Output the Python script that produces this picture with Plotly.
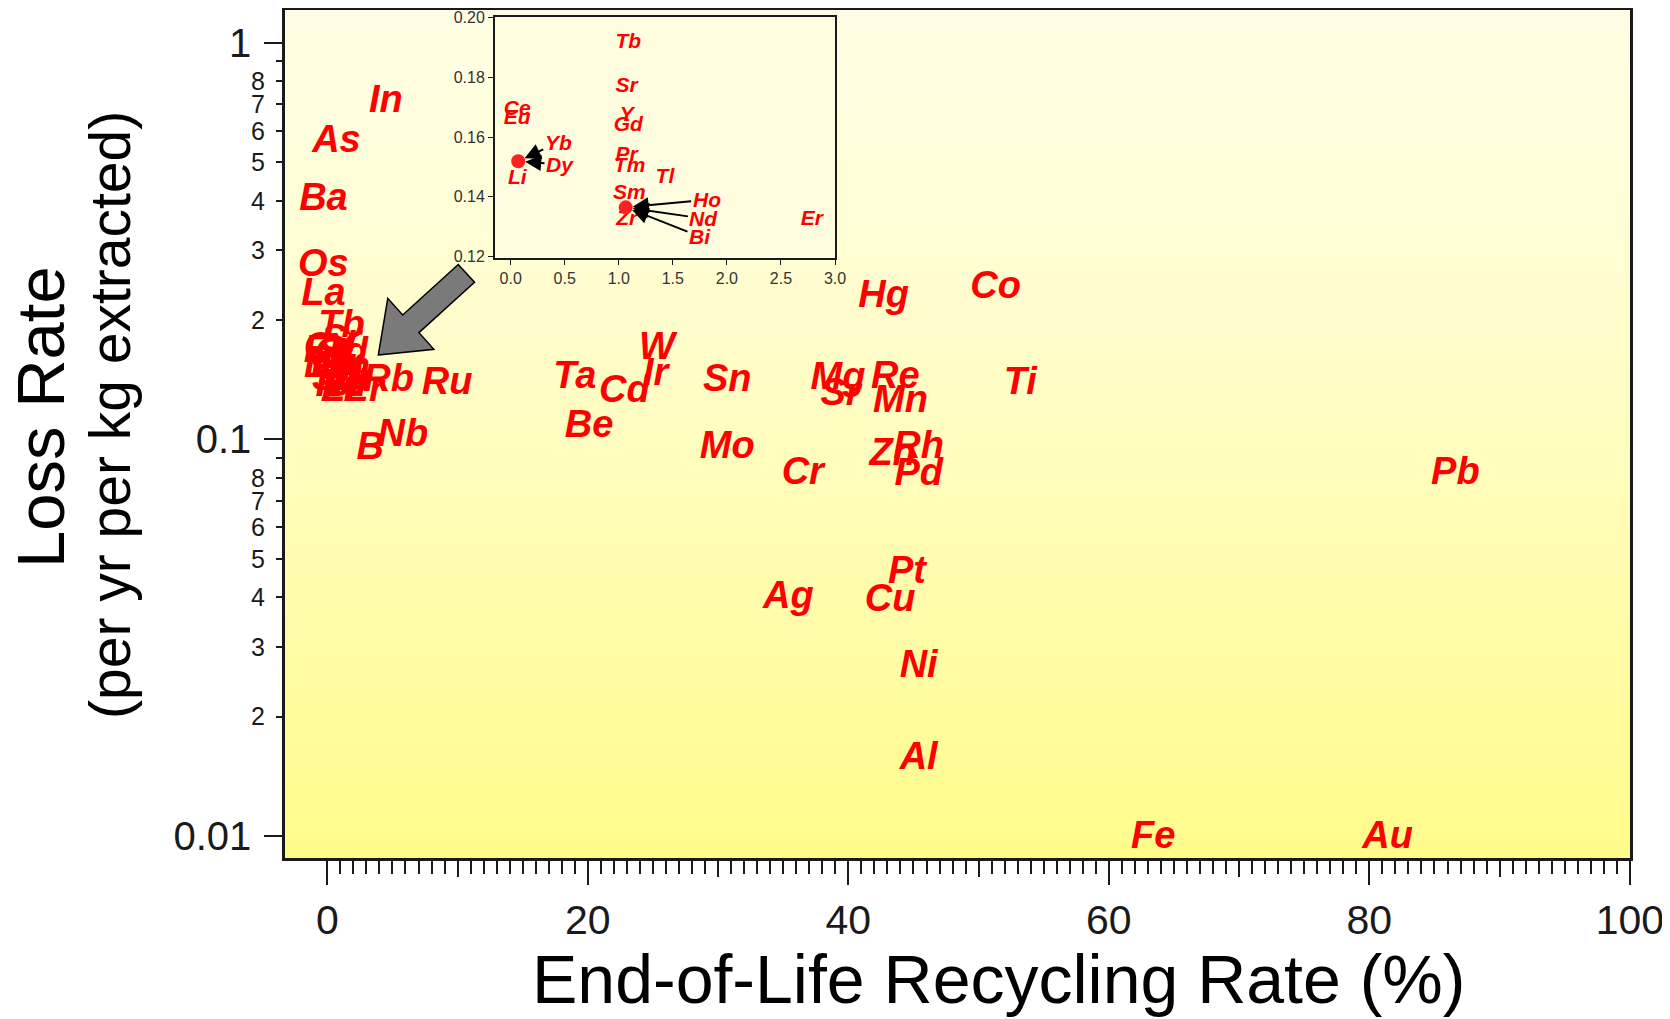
import plotly.graph_objects as go

# Main plot: element labels (recycling rate %, loss rate per yr per kg)
elements = ['In', 'As', 'Ba', 'Os', 'La', 'Rb', 'Ru', 'Nb', 'B', 'Ta', 'Cd', 'W', 'Ir', 'Be',
            'Sn', 'Mo', 'Cr', 'Mg', 'Sr', 'Re', 'Mn', 'Hg', 'Co', 'Ti', 'Zn', 'Rh', 'Pd', 'Pb',
            'Pt', 'Ag', 'Cu', 'Ni', 'Al', 'Fe', 'Au']
recycling = [4.5, 0.7, -0.3, -0.3, -0.3, 4.7, 9.2, 5.8, 3.3, 19.0, 22.8, 25.3, 25.2, 20.1,
             30.7, 30.7, 36.5, 39.2, 39.4, 43.6, 44.0, 42.7, 51.3, 53.2, 43.4, 45.4, 45.4, 86.6,
             44.5, 35.4, 43.2, 45.4, 45.4, 63.4, 81.4]
loss = [0.709, 0.560, 0.401, 0.273, 0.231, 0.140, 0.1376, 0.1016, 0.0944, 0.1429, 0.131, 0.169,
        0.1446, 0.1075, 0.140, 0.0949, 0.0818, 0.1419, 0.1293, 0.1429, 0.124, 0.2285, 0.240,
        0.1376, 0.0909, 0.0949, 0.0809, 0.0818, 0.046, 0.0397, 0.039, 0.0266, 0.0156, 0.00987,
        0.00987]

# Inset: low-recycling cluster
inset_elements = ['Tb', 'Sr', 'Y', 'Gd', 'Pr', 'Tm', 'Tl', 'Sm', 'Zr', 'Ce', 'Eu', 'Er']
inset_x = [1.088, 1.073, 1.073, 1.088, 1.073, 1.10, 1.427, 1.097, 1.073, 0.061, 0.061, 2.785]
inset_y = [0.1915, 0.1769, 0.1672, 0.1638, 0.1538, 0.1501, 0.1465, 0.1411, 0.1322, 0.1691,
           0.1661, 0.1322]

# grouped points drawn as dots, with their labels
dot_x = [0.07, 1.064]
dot_y = [0.1519, 0.1364]
group_elements = [['Li', 'Yb', 'Dy'], ['Ho', 'Nd', 'Bi']]
li_label = (0.061, 0.1460)
arrow_labels = ['Yb', 'Dy', 'Ho', 'Nd', 'Bi']
arrow_label_x = [0.44, 0.456, 1.813, 1.788, 1.751]
arrow_label_y = [0.1582, 0.1508, 0.1389, 0.1326, 0.1266]
arrow_target = [0, 0, 1, 1, 1]

x_ticks = [0, 20, 40, 60, 80, 100]
y_decades = [0.01, 0.1, 1]
y_decade_text = ['0.01', '0.1', '1']
y_minor = [m * d for d in [0.01, 0.1] for m in range(2, 10)]
y_minor_text = [str(m) if m < 9 else '' for d in [0.01, 0.1] for m in range(2, 10)]

FONT = 'Liberation Sans, Arial, sans-serif'
RED = '#ff0000'
INK = '#1a1a1a'

# the page body adds an 8px margin around the figure
OFF = 8
W, H = 1670 - 2 * OFF, 1019 - OFF
L, R, T, B = 285 - OFF, 1630 - OFF, 10 - OFF, 858 - OFF


def pp(sx, sy):
    # screen pixel -> paper coords
    return ((sx - OFF) - L) / (R - L), (B - (sy - OFF)) / (B - T)


all_x = recycling + inset_x + [dot_x[i] for i, g in enumerate(group_elements) for _ in g]
all_y = loss + inset_y + [dot_y[i] for i, g in enumerate(group_elements) for _ in g]
all_text = elements + inset_elements + [e for g in group_elements for e in g]

fig = go.Figure()

fig.add_trace(go.Scatter(x=all_x, y=all_y, text=all_text, mode='text',
                         textfont=dict(family=FONT, size=38, color=RED, weight='bold', style='italic'),
                         cliponaxis=False, hoverinfo='skip', showlegend=False))

# dummy trace for overlay axes
fig.add_trace(go.Scatter(x=[None], y=[None], xaxis='x2', yaxis='y2', showlegend=False))

fig.add_trace(go.Scatter(x=inset_x + [li_label[0]], y=inset_y + [li_label[1]],
                         text=inset_elements + ['Li'], mode='text', xaxis='x3', yaxis='y3',
                         textfont=dict(family=FONT, size=21, color=RED, weight='bold', style='italic'),
                         cliponaxis=False, hoverinfo='skip', showlegend=False))
fig.add_trace(go.Scatter(x=dot_x, y=dot_y, mode='markers', xaxis='x3', yaxis='y3',
                         marker=dict(size=14, color='#ff2020'), hoverinfo='skip', showlegend=False))

for name, lx, ly, k in zip(arrow_labels, arrow_label_x, arrow_label_y, arrow_target):
    fig.add_annotation(x=dot_x[k], y=dot_y[k], ax=lx, ay=ly, xref='x3', yref='y3',
                       axref='x3', ayref='y3', text=name, showarrow=True, arrowhead=2,
                       arrowsize=1.6, arrowwidth=2, arrowcolor='black', standoff=7,
                       font=dict(family=FONT, size=21, color=RED, weight='bold', style='italic'))

# gradient backgrounds
def grad_color(t):
    top = (255, 254, 228)
    bot = (255, 251, 138)
    f = t ** 1.3
    return 'rgb(%d,%d,%d)' % tuple(round(a + (b - a) * f) for a, b in zip(top, bot))

n = 60
shapes = []
for xr, yr in [('x domain', 'y domain'), ('x3 domain', 'y3 domain')]:
    for i in range(n):
        shapes.append(dict(type='rect', xref=xr, yref=yr, x0=0, x1=1,
                           y0=1 - (i + 1) / n, y1=1 - i / n + 0.002, layer='below',
                           line=dict(width=0), fillcolor=grad_color((i + 0.5) / n)))

# big grey arrow pointing to the cluster (screen pixel geometry)
arrow_px = [(378.3, 355), (433.9, 349.3), (418.9, 332.7), (474.5, 282.3),
            (458.3, 264.5), (402.7, 314.9), (387.7, 298.3)]
path = 'M ' + ' L '.join('%.4f,%.4f' % pp(*p) for p in arrow_px) + ' Z'
shapes.append(dict(type='path', xref='paper', yref='paper', path=path, layer='above',
                   fillcolor='#7a7a7a', line=dict(color='black', width=1.5)))

xr = [-3.25, 100.01]
yr = [-2.0555, 0.0832]
ix0, iy0 = pp(495, 258)
ix1, iy1 = pp(835, 17)

fig.update_layout(
    width=W, height=H,
    margin=dict(l=L, r=W - R, t=T, b=H - B, autoexpand=False),
    paper_bgcolor='white', plot_bgcolor='#fffde0',
    font=dict(family=FONT, color=INK),
    shapes=shapes,
    xaxis=dict(range=xr, tickvals=x_ticks, ticks='outside', ticklen=24, tickwidth=2,
               tickcolor=INK, tickfont=dict(size=41, color=INK), ticklabelstandoff=0,
               ticklabeloverflow='allow',
               showgrid=False, zeroline=False, showline=True, mirror=True,
               linewidth=2.5, linecolor=INK,
               minor=dict(tickvals=list(range(0, 101)), ticks='outside', ticklen=13,
                          tickwidth=1.5, tickcolor=INK, showgrid=False)),
    xaxis2=dict(range=xr, overlaying='x', anchor='y', side='bottom', tickvals=[10, 30, 50, 70, 90],
                ticks='outside', ticklen=18, tickwidth=1.5, tickcolor=INK, showticklabels=False,
                showgrid=False, zeroline=False, showline=False),
    yaxis=dict(type='log', range=yr, tickvals=y_decades, ticktext=y_decade_text,
               ticks='outside', ticklen=18, tickwidth=2, tickcolor=INK,
               tickfont=dict(size=40, color=INK), ticklabelstandoff=5,
               showgrid=False, zeroline=False, showline=True, mirror=True,
               linewidth=2.5, linecolor=INK),
    yaxis2=dict(type='log', range=yr, overlaying='y', anchor='x', side='left',
                tickvals=y_minor, ticktext=y_minor_text, ticks='outside', ticklen=8,
                tickwidth=2, tickcolor=INK, tickfont=dict(size=25, color=INK),
                ticklabelstandoff=6, showgrid=False, zeroline=False, showline=False),
    xaxis3=dict(domain=[ix0, ix1], anchor='y3', range=[-0.145, 3.0],
                tickvals=[0, 0.5, 1, 1.5, 2, 2.5, 3], tickformat='.1f', ticks='outside',
                ticklen=5, tickcolor=INK, tickfont=dict(size=16, color='#333'),
                showgrid=False, zeroline=False, showline=True, mirror=True,
                linewidth=2, linecolor=INK),
    yaxis3=dict(domain=[iy0, iy1], anchor='x3', range=[0.1194, 0.2003],
                tickvals=[0.12, 0.14, 0.16, 0.18, 0.20], tickformat='.2f', ticks='outside',
                ticklen=5, tickcolor=INK, tickfont=dict(size=16, color='#333'),
                showgrid=False, zeroline=False, showline=True, mirror=True,
                linewidth=2, linecolor=INK),
)

# axis titles
tx, ty = pp(998, 979)
fig.add_annotation(text='End-of-Life Recycling Rate (%)', xref='paper', yref='paper',
                   x=tx, y=ty, showarrow=False, xanchor='center', yanchor='middle',
                   font=dict(size=68, color='black'))
lx1, ly1 = pp(40, 417)
fig.add_annotation(text='Loss Rate', xref='paper', yref='paper', textangle=-90,
                   x=lx1, y=ly1, showarrow=False, xanchor='center', yanchor='middle',
                   font=dict(size=67, color='black'))
lx2, ly2 = pp(110, 415)
fig.add_annotation(text='(per yr per kg extracted)', xref='paper', yref='paper', textangle=-90,
                   x=lx2, y=ly2, showarrow=False, xanchor='center', yanchor='middle',
                   font=dict(size=57, color='black'))

fig.write_html('out.html')
